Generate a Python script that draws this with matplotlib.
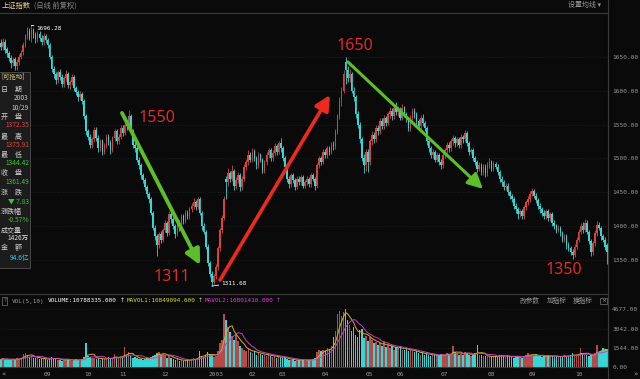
import matplotlib
matplotlib.use("Agg")
import matplotlib.pyplot as plt
from matplotlib.patches import Rectangle
from matplotlib.lines import Line2D
import numpy as np
import pandas as pd

plt.rcParams['font.family'] = ['Noto Sans CJK SC', 'DejaVu Sans']

# daily OHLC, Shanghai Composite, Aug 2002 - Oct 29 2003
opens = [1670, 1664, 1672, 1661, 1655, 1648, 1640, 1646, 1636, 1642,
         1650, 1657, 1668, 1680, 1688, 1677, 1690, 1682, 1676, 1684,
         1678, 1672, 1680, 1674, 1668, 1650, 1632, 1624, 1615, 1628,
         1620, 1610, 1618, 1625, 1608, 1612, 1620, 1604, 1598, 1590,
         1595, 1585, 1562, 1540, 1532, 1520, 1528, 1542, 1530, 1515,
         1525, 1510, 1518, 1532, 1524, 1512, 1530, 1540, 1525, 1532,
         1545, 1538, 1550, 1548, 1562, 1540, 1520, 1515, 1498, 1490,
         1475, 1468, 1458, 1448, 1440, 1420, 1398, 1385, 1372, 1388,
         1380, 1395, 1405, 1390, 1418, 1410, 1400, 1388, 1405, 1398,
         1415, 1408, 1420, 1415, 1425, 1430, 1436, 1428, 1440, 1420,
         1400, 1392, 1370, 1345, 1330, 1318, 1326, 1340, 1368, 1395,
         1412, 1470, 1465, 1478, 1470, 1482, 1460, 1468, 1475, 1458,
         1470, 1488, 1495, 1505, 1498, 1510, 1500, 1490, 1505, 1498,
         1482, 1495, 1505, 1512, 1500, 1508, 1518, 1510, 1522, 1515,
         1500, 1488, 1470, 1462, 1475, 1468, 1458, 1470, 1465, 1472,
         1460, 1465, 1470, 1462, 1475, 1470, 1460, 1490, 1500, 1495,
         1510, 1505, 1515, 1510, 1520, 1518, 1540, 1562, 1585, 1600,
         1642, 1630, 1618, 1625, 1600, 1590, 1565, 1550, 1528, 1500,
         1490, 1510, 1495, 1525, 1535, 1528, 1545, 1540, 1555, 1548,
         1560, 1552, 1565, 1570, 1562, 1575, 1568, 1572, 1560, 1575,
         1565, 1558, 1545, 1560, 1570, 1565, 1555, 1548, 1560, 1552,
         1545, 1525, 1515, 1505, 1510, 1498, 1505, 1495, 1490, 1505,
         1512, 1520, 1515, 1525, 1530, 1522, 1528, 1520, 1532, 1528,
         1538, 1522, 1510, 1512, 1500, 1495, 1485, 1490, 1480, 1488,
         1478, 1490, 1495, 1485, 1492, 1488, 1480, 1470, 1465, 1458,
         1460, 1450, 1445, 1440, 1430, 1425, 1418, 1422, 1415, 1428,
         1435, 1440, 1448, 1452, 1445, 1438, 1430, 1425, 1420, 1415,
         1422, 1412, 1418, 1405, 1400, 1395, 1398, 1390, 1380, 1385,
         1372, 1368, 1362, 1358, 1370, 1380, 1392, 1400, 1395, 1405,
         1392, 1378, 1362, 1375, 1390, 1402, 1398, 1385, 1380, 1372.35]

closes = [1665, 1672, 1660, 1655, 1648, 1640, 1645, 1636, 1642, 1650,
          1656, 1668, 1680, 1688, 1678, 1690, 1682, 1676, 1684, 1678,
          1672, 1680, 1674, 1668, 1650, 1632, 1624, 1615, 1628, 1620,
          1610, 1618, 1625, 1608, 1612, 1620, 1604, 1598, 1590, 1595,
          1585, 1562, 1540, 1532, 1520, 1528, 1542, 1530, 1515, 1525,
          1510, 1518, 1532, 1524, 1512, 1530, 1540, 1525, 1532, 1545,
          1538, 1550, 1548, 1562, 1540, 1520, 1515, 1498, 1490, 1475,
          1468, 1458, 1448, 1440, 1420, 1398, 1385, 1372, 1388, 1380,
          1395, 1405, 1390, 1418, 1410, 1400, 1388, 1405, 1398, 1415,
          1408, 1420, 1415, 1425, 1430, 1436, 1428, 1440, 1420, 1400,
          1392, 1370, 1345, 1330, 1318, 1326, 1340, 1368, 1395, 1412,
          1440, 1465, 1478, 1470, 1482, 1460, 1468, 1475, 1458, 1470,
          1488, 1495, 1505, 1498, 1510, 1500, 1490, 1505, 1498, 1482,
          1495, 1505, 1512, 1500, 1508, 1518, 1510, 1522, 1515, 1500,
          1488, 1470, 1462, 1475, 1468, 1458, 1470, 1465, 1472, 1460,
          1465, 1470, 1462, 1475, 1470, 1460, 1490, 1500, 1495, 1510,
          1505, 1515, 1510, 1520, 1518, 1540, 1562, 1585, 1600, 1625,
          1630, 1618, 1625, 1600, 1590, 1565, 1550, 1528, 1500, 1490,
          1510, 1495, 1525, 1535, 1528, 1545, 1540, 1555, 1548, 1560,
          1552, 1565, 1570, 1562, 1575, 1568, 1572, 1560, 1575, 1565,
          1558, 1545, 1560, 1570, 1565, 1555, 1548, 1560, 1552, 1545,
          1525, 1515, 1505, 1510, 1498, 1505, 1495, 1490, 1505, 1512,
          1520, 1515, 1525, 1530, 1522, 1528, 1520, 1532, 1528, 1538,
          1522, 1510, 1512, 1500, 1495, 1485, 1490, 1480, 1488, 1478,
          1490, 1495, 1485, 1492, 1488, 1480, 1470, 1465, 1458, 1460,
          1450, 1445, 1440, 1430, 1425, 1418, 1422, 1415, 1428, 1435,
          1440, 1448, 1452, 1445, 1438, 1430, 1425, 1420, 1415, 1422,
          1412, 1418, 1405, 1400, 1395, 1398, 1390, 1380, 1385, 1372,
          1368, 1362, 1358, 1370, 1380, 1392, 1400, 1395, 1405, 1392,
          1378, 1362, 1375, 1390, 1402, 1398, 1385, 1380, 1369.32, 1361.49]

highs = [1676, 1678, 1676, 1665, 1659, 1652, 1650, 1650, 1646, 1654,
         1660, 1672, 1684, 1694, 1692, 1696.28, 1693, 1686, 1688, 1688,
         1682, 1685, 1684, 1678, 1670, 1653, 1636, 1628, 1631, 1632,
         1624, 1622, 1630, 1628, 1616, 1624, 1623, 1607, 1601, 1599,
         1598, 1588, 1565, 1544, 1536, 1532, 1546, 1547, 1534, 1529,
         1528, 1522, 1536, 1536, 1527, 1533, 1544, 1543, 1536, 1549,
         1549, 1554, 1556, 1571, 1566, 1543, 1524, 1518, 1502, 1493,
         1479, 1471, 1461, 1451, 1443, 1423, 1402, 1389, 1392, 1393,
         1398, 1409, 1408, 1422, 1422, 1413, 1403, 1408, 1409, 1418,
         1418, 1424, 1424, 1428, 1434, 1441, 1439, 1443, 1443, 1423,
         1404, 1395, 1373, 1349, 1334, 1330, 1344, 1371, 1398, 1416,
         1444, 1474, 1486, 1482, 1490, 1485, 1472, 1480, 1478, 1474,
         1492, 1499, 1512, 1509, 1515, 1514, 1503, 1509, 1508, 1501,
         1498, 1509, 1516, 1515, 1512, 1522, 1521, 1526, 1530, 1518,
         1503, 1491, 1474, 1479, 1478, 1471, 1474, 1474, 1476, 1475,
         1468, 1474, 1473, 1478, 1479, 1473, 1493, 1504, 1504, 1514,
         1514, 1519, 1518, 1524, 1525, 1544, 1566, 1590, 1605, 1630,
         1649.60, 1636, 1632, 1628, 1605, 1594, 1570, 1553, 1532, 1506,
         1514, 1514, 1529, 1540, 1539, 1549, 1550, 1559, 1560, 1564,
         1563, 1569, 1576, 1574, 1579, 1583, 1577, 1576, 1580, 1578,
         1569, 1561, 1564, 1575, 1574, 1568, 1558, 1564, 1565, 1555,
         1548, 1528, 1518, 1514, 1513, 1509, 1508, 1499, 1509, 1516,
         1524, 1524, 1529, 1534, 1533, 1532, 1531, 1536, 1535, 1542,
         1541, 1525, 1516, 1515, 1504, 1498, 1494, 1493, 1492, 1491,
         1494, 1500, 1498, 1496, 1495, 1491, 1483, 1474, 1468, 1464,
         1463, 1454, 1448, 1443, 1434, 1428, 1426, 1425, 1431, 1439,
         1444, 1452, 1456, 1455, 1449, 1441, 1434, 1428, 1424, 1426,
         1425, 1421, 1421, 1409, 1403, 1402, 1401, 1393, 1389, 1388,
         1376, 1371, 1366, 1374, 1384, 1396, 1404, 1406, 1411, 1409,
         1395, 1381, 1378, 1394, 1408, 1406, 1401, 1389, 1384, 1375.91]

lows = [1660, 1660, 1656, 1650, 1644, 1634, 1636, 1631, 1630, 1638,
        1646, 1652, 1664, 1676, 1674, 1672, 1677, 1670, 1671, 1673,
        1668, 1668, 1670, 1663, 1646, 1628, 1619, 1610, 1611, 1615,
        1606, 1605, 1614, 1604, 1603, 1608, 1600, 1593, 1584, 1586,
        1580, 1558, 1535, 1527, 1516, 1515, 1524, 1526, 1510, 1511,
        1505, 1506, 1515, 1520, 1507, 1509, 1526, 1521, 1521, 1528,
        1533, 1534, 1542, 1545, 1536, 1516, 1510, 1494, 1485, 1470,
        1463, 1454, 1443, 1434, 1416, 1394, 1380, 1356, 1368, 1375,
        1376, 1391, 1386, 1387, 1405, 1396, 1383, 1385, 1393, 1394,
        1403, 1404, 1411, 1411, 1421, 1426, 1424, 1425, 1416, 1395,
        1388, 1366, 1341, 1325, 1311.68, 1314, 1322, 1336, 1364, 1390,
        1409, 1440, 1460, 1465, 1466, 1454, 1455, 1463, 1452, 1454,
        1466, 1483, 1490, 1494, 1494, 1496, 1485, 1486, 1494, 1478,
        1478, 1490, 1501, 1496, 1496, 1504, 1505, 1506, 1510, 1496,
        1484, 1465, 1457, 1458, 1463, 1454, 1455, 1461, 1461, 1456,
        1456, 1461, 1458, 1458, 1466, 1453, 1457, 1486, 1490, 1491,
        1500, 1501, 1505, 1506, 1513, 1514, 1536, 1558, 1578, 1596,
        1610, 1612, 1612, 1596, 1584, 1560, 1545, 1522, 1496, 1479,
        1482, 1480, 1490, 1520, 1523, 1524, 1535, 1536, 1544, 1544,
        1548, 1549, 1560, 1557, 1558, 1564, 1562, 1556, 1556, 1561,
        1553, 1540, 1541, 1556, 1560, 1550, 1543, 1544, 1548, 1540,
        1520, 1510, 1500, 1501, 1494, 1494, 1490, 1485, 1486, 1500,
        1508, 1510, 1511, 1520, 1517, 1518, 1515, 1516, 1523, 1524,
        1518, 1505, 1506, 1496, 1490, 1480, 1481, 1475, 1476, 1473,
        1474, 1486, 1481, 1481, 1484, 1476, 1465, 1460, 1453, 1453,
        1446, 1440, 1435, 1426, 1420, 1411, 1414, 1410, 1411, 1424,
        1431, 1436, 1444, 1441, 1434, 1426, 1420, 1415, 1410, 1411,
        1408, 1408, 1401, 1396, 1390, 1391, 1386, 1376, 1376, 1367,
        1363, 1357, 1352, 1355, 1366, 1376, 1388, 1390, 1391, 1388,
        1373, 1356, 1358, 1371, 1386, 1394, 1380, 1376, 1365, 1344.42]

# volume (万手)
volume = [620, 700, 580, 640, 560, 600, 680, 590, 720, 650,
          760, 1050, 1150, 980, 820, 900, 760, 700, 740, 680,
          640, 700, 620, 580, 720, 800, 690, 640, 600, 560,
          520, 580, 640, 600, 540, 500, 560, 620, 580, 520,
          640, 820, 1960, 900, 780, 700, 760, 640, 720, 600,
          680, 620, 720, 800, 660, 700, 1050, 780, 700, 820,
          760, 1640, 980, 1180, 900, 760, 820, 700, 640, 660,
          600, 640, 700, 760, 820, 900, 1000, 1100, 1180, 1000,
          1060, 980, 760, 900, 700, 640, 580, 620, 520, 560,
          480, 540, 600, 560, 620, 700, 640, 760, 1260, 900,
          820, 1000, 1200, 1050, 950, 800, 900, 1300, 1930, 2200,
          4300, 3820, 3200, 2800, 2500, 2200, 2600, 2080, 1700, 1500,
          1400, 1300, 1500, 1200, 1100, 1300, 1000, 1200, 1050, 950,
          1000, 900, 1050, 850, 800, 900, 750, 850, 780, 700,
          720, 650, 600, 560, 620, 520, 580, 540, 600, 560,
          520, 580, 540, 600, 640, 700, 1200, 1350, 1250, 1400,
          1300, 1500, 1450, 1700, 2400, 2900, 4300, 4500, 4100, 4400,
          4677, 3780, 3400, 2900, 3200, 2600, 2400, 3000, 3100, 2300,
          2500, 2100, 2400, 2200, 1900, 2000, 1800, 1900, 1700, 2000,
          1600, 1800, 1500, 1700, 1400, 1600, 1500, 1700, 1350, 1400,
          1500, 1300, 1400, 1250, 1200, 1300, 1100, 1000, 1200, 950,
          1100, 1000, 900, 950, 1000, 850, 900, 1050, 1000, 950,
          1100, 1050, 1000, 1670, 1200, 1100, 1000, 1050, 950, 1200,
          1100, 1000, 900, 950, 1100, 1750, 1000, 950, 900, 850,
          800, 900, 850, 800, 900, 850, 1000, 950, 850, 800,
          900, 850, 800, 760, 850, 900, 800, 760, 900, 1000,
          1100, 1000, 950, 900, 1050, 850, 900, 800, 850, 900,
          950, 900, 850, 800, 900, 850, 800, 900, 950, 850,
          900, 1000, 1100, 950, 900, 1000, 1500, 1100, 1000, 950,
          900, 1000, 950, 1100, 1800, 1200, 1300, 1500, 1350, 1426]

# month starts (candle index) and labels on the time axis
month_idx = [23, 43, 60, 81, 106, 124, 139, 160, 182, 197, 219, 242, 262, 285]
month_lbl = ['09', '10', '11', '12', '2003', '02', '03', '04', '05', '06', '07', '08', '09', '10']

price_ticks = [1350, 1400, 1450, 1500, 1550, 1600, 1650]
vol_ticks = [0, 1544, 3042, 4677]

BG = '#0a0a0a'
UP = '#d9433f'
DOWN = '#35d6d6'
VUP = '#b54a48'
GRAY = '#9a9a9a'

W, H = 640, 379


def fx(x):
    return x / W


def fy(y):
    return 1 - y / H


df = pd.DataFrame({'o': opens, 'h': highs, 'l': lows, 'c': closes, 'v': volume})
idx = np.arange(len(df))
up = df['c'] >= df['o']
cols = np.where(up, UP, DOWN)
vcols = np.where(up, VUP, DOWN)

fig = plt.figure(figsize=(6.4, 3.79), dpi=100, facecolor=BG)

# price panel
ax = fig.add_axes([0, fy(292), fx(608), (292 - 13) / H], facecolor=BG)
ax.vlines(idx, df['l'], df['h'], colors=cols, lw=0.6, zorder=3)
body = (df['c'] - df['o']).abs().clip(lower=0.8)
ax.bar(idx, body, bottom=df[['o', 'c']].min(axis=1), width=0.8, color=cols, lw=0, zorder=3)
ax.set_xlim(-0.5, len(df) - 0.5)
ax.set_ylim(1302.9, 1714.5)
for p in price_ticks:
    ax.axhline(p, color='#262626', lw=0.6, ls=(0, (1, 2)), zorder=1)
ax.yaxis.tick_right()
ax.set_yticks(price_ticks)
ax.set_yticklabels(['%.2f' % p for p in price_ticks], family='DejaVu Sans Mono',
                   fontsize=4.4, color=GRAY)
ax.tick_params(axis='y', length=0, pad=3)
ax.set_xticks([])
for s in ['left', 'bottom']:
    ax.spines[s].set_visible(False)
ax.spines['top'].set_color('#3a3a3a')
ax.spines['right'].set_color('#3a3a3a')
ax.spines['top'].set_linewidth(0.8)
ax.spines['right'].set_linewidth(0.8)

# high / low marks
ax.annotate('1696.28', xy=(15, 1696.28), xytext=(17.6, 1692), fontsize=4.3,
            family='DejaVu Sans Mono', color='white', va='center',
            arrowprops=dict(arrowstyle='-', color='white', lw=0.6, shrinkA=0, shrinkB=0))
ax.annotate('1311.68', xy=(104, 1311.68), xytext=(108.8, 1316), fontsize=4.3,
            family='DejaVu Sans Mono', color='white', va='center',
            arrowprops=dict(arrowstyle='-', color='white', lw=0.6, shrinkA=0, shrinkB=0))

# trend arrows
GREEN = '#5cbf2a'
RED = '#ee2a1f'
ax.annotate('', xy=(98.2, 1342.8), xytext=(59.7, 1567), zorder=6,
            arrowprops=dict(arrowstyle='-|>,head_length=0.9,head_width=0.45', color=GREEN,
                            lw=2.8, mutation_scale=10, shrinkA=0, shrinkB=0))
ax.annotate('', xy=(162.3, 1593.5), xytext=(108.1, 1320.7), zorder=6,
            arrowprops=dict(arrowstyle='-|>,head_length=0.9,head_width=0.45', color=RED,
                            lw=2.6, mutation_scale=10, shrinkA=0, shrinkB=0))
ax.annotate('', xy=(237.8, 1454.9), xytext=(171.2, 1642.2), zorder=6,
            arrowprops=dict(arrowstyle='-|>,head_length=0.9,head_width=0.45', color=GREEN,
                            lw=2.2, mutation_scale=10, shrinkA=0, shrinkB=0))

# level labels
LBL = '#e02a2a'
for txt, x, y in [('1550', 156.5, 117.5), ('1650', 354.5, 46.5),
                  ('1311', 171.5, 277), ('1350', 563.5, 270.5)]:
    fig.text(fx(x), fy(y), txt, color=LBL, fontsize=11.5, family='Noto Sans',
             ha='center', va='center', zorder=7)

# volume panel
axv = fig.add_axes([0, fy(367), fx(608), (367 - 294) / H], facecolor=BG)
axv.bar(idx, df['v'], width=0.75, color=vcols, lw=0)
ma5 = df['v'].rolling(5, min_periods=1).mean()
ma10 = df['v'].rolling(10, min_periods=1).mean()
axv.plot(idx, ma5, color='#d9ad22', lw=0.7)
axv.plot(idx, ma10, color='#c044c4', lw=0.7)
axv.set_xlim(-0.5, len(df) - 0.5)
axv.set_ylim(0, 5887)
for v in vol_ticks[1:]:
    axv.axhline(v, color='#262626', lw=0.6, ls=(0, (1, 2)), zorder=0)
axv.yaxis.tick_right()
axv.set_yticks(vol_ticks)
axv.set_yticklabels(['%.2f' % v for v in vol_ticks], family='DejaVu Sans Mono',
                    fontsize=4.4, color=GRAY)
axv.set_xticks(month_idx)
axv.set_xticklabels(month_lbl, family='DejaVu Sans Mono', fontsize=4.4, color=GRAY)
axv.tick_params(axis='both', length=0)
axv.tick_params(axis='y', pad=3)
axv.tick_params(axis='x', pad=3.5)
axv.spines['left'].set_visible(False)
for s in ['top', 'right', 'bottom']:
    axv.spines[s].set_color('#3a3a3a')
    axv.spines[s].set_linewidth(0.8)

# header of the volume panel
hy = fy(301)
fig.text(fx(3), hy, '?', fontsize=3.6, color=GRAY, va='center', family='DejaVu Sans Mono',
         bbox=dict(boxstyle='square,pad=0.25', fc=BG, ec='#777777', lw=0.5))
fig.text(fx(12), hy, 'VOL(5,10)', fontsize=4.3, color=GRAY, va='center', family='DejaVu Sans Mono')
fig.text(fx(48), hy, 'VOLUME:10788335.000', fontsize=4.3, color='white', va='center',
         family='DejaVu Sans Mono')
fig.text(fx(120), hy, '↑', fontsize=4.3, color='white', va='center', family='DejaVu Sans')
fig.text(fx(127), hy, 'MAVOL1:10849094.600', fontsize=4.3, color='#dada30', va='center',
         family='DejaVu Sans Mono')
fig.text(fx(198), hy, '↑', fontsize=4.3, color='#dada30', va='center', family='DejaVu Sans')
fig.text(fx(205), hy, 'MAVOL2:10801410.000', fontsize=4.3, color='#e040e0', va='center',
         family='DejaVu Sans Mono')
fig.text(fx(276), hy, '↑', fontsize=4.3, color='#e040e0', va='center', family='DejaVu Sans')
for txt, x in [('改参数', 520), ('加指标', 547), ('换指标', 573)]:
    fig.text(fx(x), hy, txt, fontsize=4.8, color=GRAY, va='center')
fig.text(fx(601), hy, '×', fontsize=4.3, color=GRAY, va='center', family='DejaVu Sans',
         bbox=dict(boxstyle='square,pad=0.15', fc=BG, ec='#777777', lw=0.5))

# title bar
fig.text(fx(2), fy(5.5), '上证指数', fontsize=5.2, color='#e8d493', va='center')
fig.text(fx(34), fy(5.5), '(日线 前复权)', fontsize=5.2, color='#8c8c8c', va='center')
fig.text(fx(568), fy(5.5), '设置均线 ▾', fontsize=5.0, color=GRAY, va='center')
fig.add_artist(Line2D([fx(608), fx(608)], [0, 1], color='#3a3a3a', lw=0.8))
fig.text(fx(2), fy(374), '«', fontsize=5, color=GRAY, va='center', family='DejaVu Sans')
fig.text(fx(633), fy(374), '»', fontsize=5, color=GRAY, va='center', family='DejaVu Sans')

# info box
fig.add_artist(Rectangle((fx(-1), fy(268)), 31 / W, 196 / H, transform=fig.transFigure,
                         fc='#1c1c1c', ec='#505050', lw=0.6, zorder=5))
labels = [('[可拖动]', 1, 77, '#e0cf8a', 4.6), ('日\u3000期', 1, 90, '#d0d0d0', 5),
          ('开\u3000盘', 1, 117, '#d0d0d0', 5), ('最\u3000高', 1, 137, '#d0d0d0', 5),
          ('最\u3000低', 1, 155, '#d0d0d0', 5), ('收\u3000盘', 1, 173, '#d0d0d0', 5),
          ('涨\u3000跌', 1, 192, '#d0d0d0', 5), ('涨跌幅', 1, 212, '#d0d0d0', 5),
          ('成交量', 1, 230, '#d0d0d0', 5), ('金\u3000额', 1, 248, '#d0d0d0', 5)]
for txt, x, y, c, fs in labels:
    fig.text(fx(x), fy(y), txt, fontsize=fs, color=c, va='center', zorder=6)
values = [('2003', 98, '#c8c8c8'), ('10/29', 108, '#c8c8c8'), ('1372.35', 125, '#d84848'),
          ('1375.91', 145, '#d84848'), ('1344.42', 163, '#3cc23c'), ('1361.49', 182, '#3cc23c'),
          ('▼ 7.83', 202, '#3cc23c'), ('-0.57%', 220, '#3cc23c'), ('1426万', 238, '#e0e0e0'),
          ('94.6亿', 258, '#40c8e8')]
for txt, y, c in values:
    fig.text(fx(29), fy(y), txt, fontsize=4.8, color=c, va='center', ha='right', zorder=6)

fig.savefig('out.png', dpi=100, facecolor=BG)
